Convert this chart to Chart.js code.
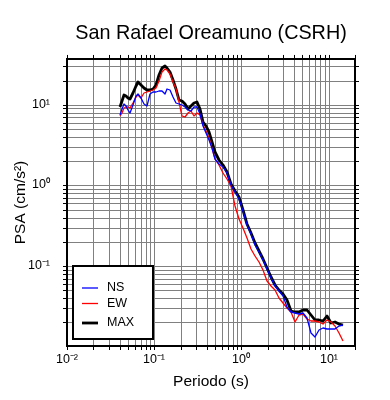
<!DOCTYPE html>
<html>
<head>
<meta charset="utf-8">
<script src="https://cdn.jsdelivr.net/npm/chart.js@4.4.0/dist/chart.umd.min.js"></script>
<style>
  body { margin: 0; background: #fff; }
  #wrap { width: 390px; height: 400px; }
</style>
</head>
<body>
<div id="wrap"><canvas id="psa" width="390" height="400"></canvas></div>
<script>
// periods (s) and spectral accelerations (cm/s2)
var periods = [0.0405, 0.0427, 0.0450, 0.0475, 0.0501, 0.0528, 0.0571, 0.0618, 0.0652, 0.0706,
  0.0764, 0.0827, 0.0895, 0.0969, 0.105, 0.1135, 0.123, 0.133, 0.140, 0.152,
  0.164, 0.178, 0.1925, 0.208, 0.2255, 0.244, 0.264, 0.286, 0.310, 0.335,
  0.363, 0.393, 0.425, 0.460, 0.498, 0.5535, 0.615, 0.684, 0.760, 0.845,
  0.939, 1.043, 1.159, 1.288, 1.432, 1.591, 1.769, 1.966, 2.185, 2.428,
  2.699, 3.000, 3.334, 3.705, 4.118, 4.577, 5.087, 5.654, 6.283, 6.983,
  7.761, 8.628, 9.588, 10.65, 11.84, 13.16, 14.63];

var psaNS = [7.52, 8.93, 10.3, 9.72, 8.68, 7.96, 10.0, 12.9, 13.5, 12.2,
  10.3, 9.6, 13.5, 14.3, 14.5, 14.7, 14.9, 13.7, 15.8, 15.3,
  12.4, 10.4, 10.1, 10.0, 9.31, 8.68, 8.31, 9.45, 9.45, 7.74,
  5.43, 4.45, 3.65, 2.90, 2.15, 1.82, 1.69, 1.41, 1.00, 0.820,
  0.672, 0.478, 0.325, 0.248, 0.184, 0.149, 0.119, 0.0918, 0.0711, 0.0566,
  0.0491, 0.0426, 0.0312, 0.0267, 0.0261, 0.0252, 0.0263, 0.0225, 0.0149, 0.0133,
  0.0162, 0.0170, 0.0165, 0.0164, 0.0168, 0.0179, 0.0187];

var psaEW = [7.31, 7.96, 9.18, 9.45, 9.31, 9.05, 10.6, 12.6, 13.3, 12.2,
  13.9, 14.5, 14.7, 15.1, 16.2, 19.8, 25.2, 27.4, 27.0, 23.8,
  19.2, 15.8, 10.9, 7.21, 7.01, 7.96, 8.31, 7.21, 7.86, 7.52,
  5.66, 4.78, 3.91, 2.94, 2.15, 1.77, 1.41, 1.19, 0.972, 0.551,
  0.380, 0.294, 0.220, 0.162, 0.133, 0.112, 0.0893, 0.0653, 0.0566, 0.0505,
  0.0403, 0.0344, 0.0303, 0.0267, 0.0201, 0.0245, 0.0256, 0.0222, 0.0209, 0.0206,
  0.0201, 0.0192, 0.0215, 0.0204, 0.0179, 0.0149, 0.0117];

var psaMAX = [9.26, 11.2, 13.2, 12.7, 12.0, 11.9, 14.1, 17.2, 19.2, 17.4,
  16.0, 15.1, 15.1, 15.5, 17.7, 23.5, 28.6, 30.3, 28.2, 25.2,
  20.4, 15.8, 11.5, 11.0, 10.3, 8.80, 9.58, 10.6, 10.9, 8.93,
  6.17, 5.50, 4.64, 3.49, 2.63, 2.04, 1.79, 1.45, 1.03, 0.843,
  0.711, 0.491, 0.335, 0.256, 0.192, 0.153, 0.122, 0.0945, 0.0731, 0.0583,
  0.0498, 0.0445, 0.0380, 0.0278, 0.0267, 0.0270, 0.0282, 0.0282, 0.0245, 0.0215,
  0.0212, 0.0209, 0.0241, 0.0196, 0.0205, 0.0190, 0.0187];

var seriesNames = ['NS', 'EW', 'MAX'];
var seriesColors = ['#0000ff', '#ff0000', '#000000'];
var seriesWidths = [1.3, 1.3, 2.8];

var xMajor = [0.01, 0.1, 1, 10];
var xMajorLabels = ['10\u207B\u00B2', '10\u207B\u00B9', '10\u2070', '10\u00B9'];
var yMajor = [0.1, 1, 10];
var yMajorLabels = ['10\u207B\u00B9', '10\u2070', '10\u00B9'];

var xRange = [0.01, 20];
var yRange = [0.0102, 37];

var fontFamily = "'Liberation Sans', Arial, Helvetica, sans-serif";
Chart.defaults.font.family = fontFamily;
Chart.defaults.color = '#000';

// 1..9 x 10^n ticks, so every minor grid line shows
function fillLogTicks(scale) {
  var out = [];
  for (var d = -3; d <= 2; d++) {
    for (var m = 1; m <= 9; m++) {
      var v = Number((m * Math.pow(10, d)).toPrecision(4));
      if (v >= scale.min * 0.9999 && v <= scale.max * 1.0001) out.push({ value: v });
    }
  }
  scale.ticks = out;
}

function majorLabel(majors, labels) {
  return function (v) {
    for (var i = 0; i < majors.length; i++) {
      if (Math.abs(v / majors[i] - 1) < 1e-6) return labels[i];
    }
    return '';
  };
}

function logAxis(pos, range, extra) {
  var ax = {
    type: 'logarithmic',
    position: pos,
    min: range[0],
    max: range[1],
    alignToPixels: true,
    afterBuildTicks: fillLogTicks,
    border: { display: true, color: '#000', width: 2 },
    grid: { color: '#808080', lineWidth: 1, tickLength: 4, tickColor: '#000', tickWidth: 1 },
    ticks: { autoSkip: false, maxRotation: 0, minRotation: 0, font: { size: 12 } }
  };
  return Object.assign(ax, extra);
}

var legendBox = {
  id: 'legendBox',
  afterDatasetsDraw: function (chart) {
    var ctx = chart.ctx, a = chart.chartArea;
    var x = a.left + 6, y = a.bottom - 80, w = 80, h = 73;
    var rows = [22, 37.5, 57];
    ctx.save();
    ctx.fillStyle = '#fff';
    ctx.fillRect(x, y, w, h);
    ctx.lineWidth = 2;
    ctx.strokeStyle = '#000';
    ctx.strokeRect(x, y, w, h);
    ctx.font = '12.5px ' + fontFamily;
    ctx.textBaseline = 'middle';
    chart.data.datasets.forEach(function (ds, i) {
      var ry = y + rows[i];
      ctx.beginPath();
      ctx.moveTo(x + 9, ry);
      ctx.lineTo(x + 25, ry);
      ctx.strokeStyle = ds.borderColor;
      ctx.lineWidth = ds.borderWidth;
      ctx.stroke();
      ctx.fillStyle = '#000';
      ctx.fillText(ds.label, x + 34, ry);
    });
    ctx.restore();
  }
};

function series(values) {
  return periods.map(function (p, i) { return { x: p, y: values[i] }; });
}

var allValues = [psaNS, psaEW, psaMAX];

new Chart(document.getElementById('psa'), {
  type: 'line',
  data: {
    datasets: seriesNames.map(function (name, i) {
      return {
        label: name,
        data: series(allValues[i]),
        borderColor: seriesColors[i],
        borderWidth: seriesWidths[i],
        pointRadius: 0,
        tension: 0,
        fill: false,
        borderJoinStyle: 'round'
      };
    })
  },
  options: {
    responsive: false,
    animation: false,
    layout: { padding: 0 },
    plugins: {
      legend: { display: false },
      tooltip: { enabled: false },
      title: {
        display: true,
        fullSize: false,
        text: 'San Rafael Oreamuno (CSRH)',
        color: '#000',
        font: { size: 19.8, weight: 'normal' },
        padding: { top: 21.5, bottom: 0 }
      }
    },
    scales: {
      x: logAxis('bottom', xRange, {
        ticks: { autoSkip: false, maxRotation: 0, minRotation: 0, padding: 2, font: { size: 12.5 },
          callback: majorLabel(xMajor, xMajorLabels) },
        title: { display: true, text: 'Periodo (s)', font: { size: 15.5 }, padding: { top: 0, bottom: 9 } },
        afterFit: function (s) { s.height = 54; }
      }),
      y: logAxis('left', yRange, {
        ticks: { autoSkip: false, padding: 13, font: { size: 12.5 },
          callback: majorLabel(yMajor, yMajorLabels) },
        title: { display: true, text: 'PSA (cm/s\u00B2)', font: { size: 15.5 }, padding: { top: 11, bottom: 0 } },
        afterFit: function (s) { s.width = 67; }
      }),
      x2: logAxis('top', xRange, {
        ticks: { display: false },
        grid: { drawOnChartArea: false, tickLength: 4, tickColor: '#000' },
        afterFit: function (s) { s.height = 13.7; }
      }),
      y2: logAxis('right', yRange, {
        ticks: { display: false },
        grid: { drawOnChartArea: false, tickLength: 4, tickColor: '#000' },
        afterFit: function (s) { s.width = 35; }
      })
    }
  },
  plugins: [legendBox]
});
</script>
</body>
</html>
